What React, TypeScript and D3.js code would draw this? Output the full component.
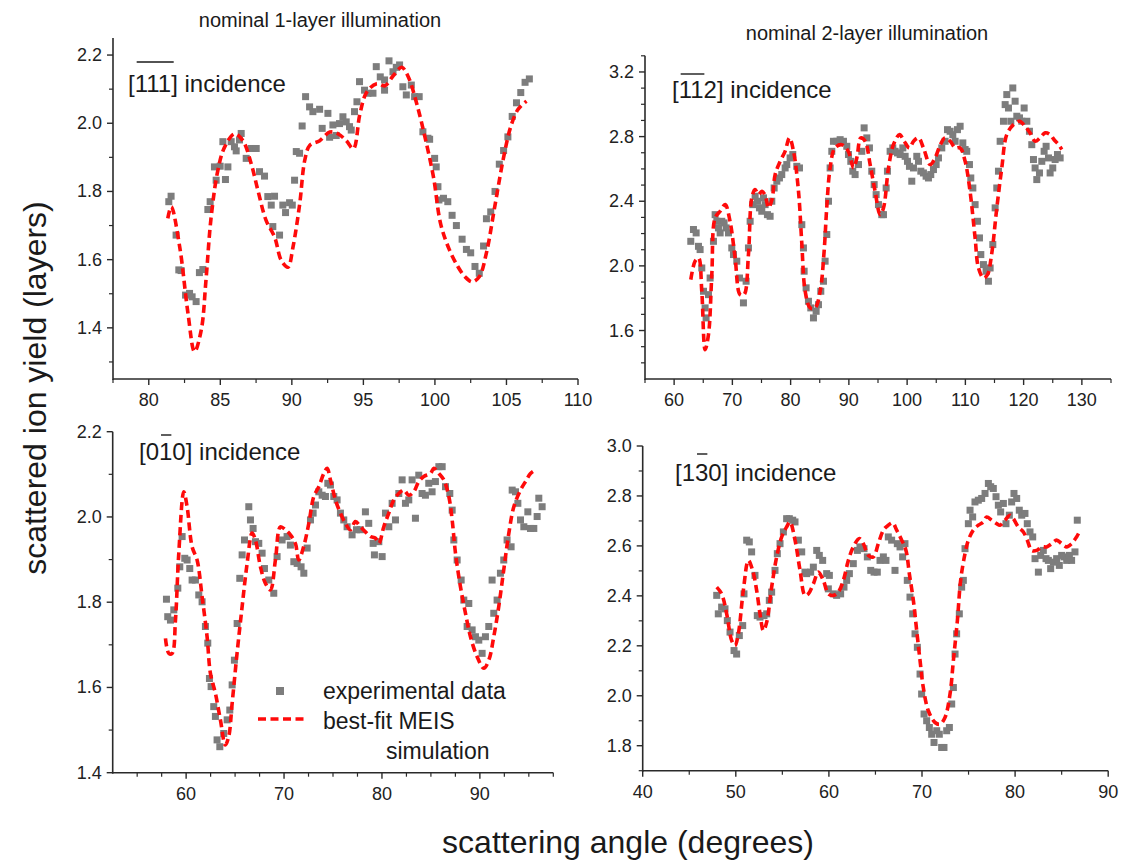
import React from "react";
import * as d3 from "d3";

type Pt = [number, number];

// ---------- Panel 1: nominal 1-layer, [-1-1-1] incidence ----------
const p1Experimental: Pt[] = [
  [81.4,1.77],[81.56,1.786],[81.91,1.672],[82.1,1.57],[82.26,1.568],[82.57,1.496],[82.85,1.501],[83.03,1.491],
  [83.31,1.477],[83.54,1.562],[83.78,1.571],[84.13,1.747],[84.29,1.77],[84.59,1.872],[84.71,1.833],[84.99,1.874],
  [85.36,1.835],[85.53,1.872],[85.18,1.946],[85.76,1.946],[85.99,1.931],[86.11,1.919],[86.34,1.951],[86.46,1.97],
  [86.81,1.897],[87.16,1.926],[87.51,1.926],[87.74,1.858],[88.09,1.845],[88.32,1.785],[88.56,1.76],[88.79,1.786],
  [88.67,1.697],[89.14,1.672],[89.37,1.76],[89.56,1.738],[89.84,1.767],[90.03,1.76],[90.19,1.833],[90.31,1.917],
  [90.54,1.912],[90.72,1.992],[90.96,2.078],[91.24,2.048],[91.47,2.034],[91.94,2.041],[92.12,1.985],[92.52,2.029],
  [92.64,1.959],[92.87,1.995],[93.1,1.964],[93.33,1.999],[93.57,2.019],[93.8,2.004],[94.03,1.99],[94.15,1.98],
  [94.38,2.034],[94.55,2.063],[94.73,2.122],[95.08,2.097],[95.32,2.088],[95.67,2.088],[95.9,2.166],[96.18,2.136],
  [96.48,2.097],[96.48,2.127],[96.79,2.183],[97.07,2.151],[97.3,2.164],[97.53,2.171],[97.76,2.107],[98.0,2.083],
  [98.35,2.112],[98.58,2.078],[98.9,2.078],[99.16,1.975],[99.51,1.956],[99.63,1.953],[99.98,1.897],[100.09,1.872],
  [100.21,1.814],[100.28,1.775],[100.6,1.78],[100.9,1.77],[101.2,1.73],[101.5,1.7],[101.9,1.66],[102.2,1.63],
  [102.5,1.62],[102.8,1.58],[103.1,1.56],[103.4,1.64],[103.6,1.72],[103.9,1.74],[104.2,1.8],[104.5,1.88],
  [104.8,1.92],[105.1,1.96],[105.4,2.02],[105.7,2.06],[106.0,2.09],[106.3,2.12],[106.6,2.13]
];
const p1Fit: Pt[] = [
  [81.33,1.721],[81.57,1.755],[82.16,1.638],[82.74,1.443],[83.2,1.33],[83.67,1.394],[84.0,1.541],[84.36,1.725],
  [84.83,1.862],[85.3,1.93],[86.0,1.969],[86.58,1.949],[87.16,1.881],[87.63,1.803],[88.2,1.715],[88.8,1.666],
  [89.26,1.598],[89.73,1.578],[90.08,1.637],[90.55,1.764],[90.9,1.891],[91.25,1.935],[91.95,1.949],[92.65,1.974],
  [93.23,1.969],[93.8,1.949],[94.3,1.925],[94.76,2.028],[95.23,2.091],[95.93,2.116],[96.5,2.11],[97.1,2.14],
  [97.68,2.164],[98.15,2.135],[98.73,2.057],[99.3,1.96],[99.9,1.842],[100.4,1.705],[101.0,1.63],[101.6,1.58],
  [102.1,1.55],[102.6,1.535],[103.1,1.55],[103.6,1.62],[104.2,1.76],[104.8,1.9],[105.3,1.99],[105.8,2.04],[106.4,2.065]
];
const p1XTicks = [80, 85, 90, 95, 100, 105, 110];
const p1XMinor = [77.5, 82.5, 87.5, 92.5, 97.5, 102.5, 107.5];
const p1YTicks = [1.4, 1.6, 1.8, 2.0, 2.2];
const p1YMinor = [1.3, 1.5, 1.7, 1.9, 2.1];

// ---------- Panel 2: nominal 2-layer, [-1-12] incidence ----------
const p2Experimental: Pt[] = [
  [62.86,2.152],[63.32,2.225],[63.78,2.204],[64.18,2.121],[64.46,2.101],[64.75,1.987],[65.04,1.843],[65.32,1.74],
  [65.49,1.678],[65.9,1.822],[66.18,1.925],[66.75,2.152],[67.04,2.317],[67.33,2.276],[67.61,2.235],[67.9,2.204],
  [68.18,2.276],[68.58,2.266],[68.93,2.235],[69.33,2.204],[69.9,2.111],[70.19,2.07],[70.76,2.029],[71.22,1.925],
  [71.9,1.771],[72.36,1.905],[72.76,2.111],[73.05,2.276],[73.51,2.379],[73.91,2.431],[74.31,2.4],[74.65,2.359],
  [75.05,2.338],[75.34,2.421],[75.62,2.379],[76.02,2.317],[76.48,2.307],[76.77,2.4],[77.17,2.482],[77.63,2.524],
  [78.08,2.544],[78.48,2.565],[79.06,2.606],[79.34,2.627],[79.91,2.668],[80.37,2.689],[81.06,2.616],[81.52,2.606],
  [81.92,2.255],[82.2,2.111],[82.32,1.967],[82.66,1.864],[83.06,1.781],[83.46,1.74],[83.92,1.678],[84.38,1.719],
  [84.78,1.76],[85.18,1.843],[85.64,1.905],[85.92,2.029],[86.21,2.194],[86.5,2.4],[86.78,2.606],[87.07,2.709],
  [87.35,2.771],[87.93,2.771],[88.5,2.781],[89.07,2.771],[89.64,2.74],[89.93,2.689],[90.33,2.647],[90.67,2.586],
  [91.07,2.565],[91.65,2.627],[92.22,2.709],[92.62,2.854],[93.08,2.792],[93.53,2.73],[93.93,2.586],[94.34,2.503],
  [94.68,2.441],[95.08,2.379],[95.65,2.317],[95.94,2.317],[96.4,2.482],[96.62,2.586],[97.08,2.709],[97.54,2.73],
  [97.94,2.709],[98.34,2.699],[98.8,2.689],[99.26,2.73],[99.66,2.678],[100.06,2.647],[100.4,2.616],[100.8,2.524],
  [101.09,2.606],[101.66,2.678],[101.95,2.647],[102.35,2.586],[102.8,2.575],[103.26,2.555],[103.66,2.544],[104.06,2.565],
  [104.52,2.596],[104.98,2.627],[105.38,2.668],[105.95,2.73],[106.52,2.771],[106.93,2.843],[107.38,2.833],[107.84,2.812],
  [108.24,2.771],[108.64,2.843],[109.1,2.864],[109.56,2.761],[109.96,2.72],[110.24,2.709],[110.7,2.627],[110.93,2.544],
  [111.28,2.482],[111.67,2.379],[112.07,2.276],[112.42,2.173],[112.65,2.07],[113.1,2.008],[113.56,1.967],[113.96,1.905],
  [114.25,1.987],[114.71,2.132],[115.11,2.359],[115.39,2.482],[115.68,2.586],[115.97,2.771],[116.54,2.895],[116.83,2.998],
  [117.11,3.06],[117.4,2.977],[117.8,2.895],[118.14,3.101],[118.54,3.019],[118.83,2.926],[119.29,2.916],[119.69,2.895],
  [120.09,2.977],[120.55,2.895],[121.0,2.833],[121.4,2.75],[121.69,2.658],[121.97,2.606],[122.26,2.534],[122.72,2.575],
  [123.12,2.647],[123.52,2.709],[123.86,2.74],[124.27,2.668],[124.55,2.575],[125.0,2.606],[125.41,2.658],[125.81,2.689],
  [126.27,2.668]
];
const p2Fit: Pt[] = [
  [62.86,1.915],[63.6,2.029],[64.2,2.049],[64.75,1.843],[65.32,1.482],[65.9,1.575],[66.47,1.946],[67.04,2.297],
  [67.9,2.338],[68.76,2.379],[69.6,2.276],[70.47,2.049],[71.33,1.822],[72.0,1.822],[72.76,2.07],[73.33,2.42],
  [73.9,2.472],[74.48,2.441],[75.05,2.462],[75.6,2.44],[76.2,2.36],[76.8,2.41],[77.34,2.565],[78.2,2.647],
  [79.05,2.709],[79.8,2.792],[80.5,2.709],[81.35,2.462],[81.9,2.152],[82.5,1.843],[83.35,1.74],[84.2,1.74],
  [85.07,1.843],[85.75,2.09],[86.2,2.36],[86.78,2.606],[87.6,2.73],[88.78,2.75],[89.9,2.709],[90.8,2.606],
  [91.36,2.668],[92.05,2.792],[92.8,2.771],[93.65,2.627],[94.5,2.462],[95.37,2.317],[95.94,2.358],[96.8,2.606],
  [97.65,2.75],[98.7,2.812],[99.5,2.771],[100.4,2.73],[101.1,2.771],[101.95,2.792],[102.8,2.73],[103.95,2.627],
  [104.8,2.668],[105.7,2.75],[106.5,2.792],[107.4,2.771],[108.25,2.73],[109.1,2.73],[109.96,2.647],[110.8,2.462],
  [111.67,2.173],[112.25,1.987],[113.1,1.925],[113.8,1.946],[114.5,2.07],[115.4,2.36],[116.25,2.606],[117.1,2.812],
  [118.26,2.874],[119.3,2.895],[120.25,2.864],[121.1,2.823],[122.0,2.771],[122.8,2.792],[123.7,2.823],[124.55,2.812],
  [125.2,2.782],[126.0,2.75],[126.55,2.72]
];
const p2XTicks = [60, 70, 80, 90, 100, 110, 120, 130];
const p2XMinor = [55, 65, 75, 85, 95, 105, 115, 125, 135];
const p2YTicks = [1.6, 2.0, 2.4, 2.8, 3.2];
const p2YMinor = [1.4, 1.5, 1.7, 1.8, 1.9, 2.1, 2.2, 2.3, 2.5, 2.6, 2.7, 2.9, 3.0, 3.1, 3.3];

// ---------- Panel 3: nominal 1-layer, [0-10] incidence ----------
const p3Experimental: Pt[] = [
  [57.99,1.807],[58.12,1.766],[58.4,1.758],[58.74,1.782],[59.15,1.833],[59.35,1.883],[59.59,1.954],[59.86,1.903],
  [60.1,1.899],[60.37,1.879],[60.61,1.852],[60.95,1.852],[61.29,1.817],[61.63,1.801],[61.97,1.743],[62.21,1.704],
  [62.38,1.621],[62.55,1.602],[62.82,1.555],[62.99,1.532],[63.16,1.477],[63.44,1.461],[63.84,1.492],[64.19,1.524],
  [64.46,1.547],[64.7,1.606],[64.93,1.664],[65.21,1.75],[65.48,1.856],[65.72,1.911],[65.96,1.946],[66.4,2.024],
  [66.57,1.993],[66.84,1.973],[67.08,1.942],[67.42,1.938],[67.76,1.915],[68.0,1.879],[68.44,1.852],[68.95,1.821],
  [69.29,1.907],[69.8,1.946],[70.31,1.954],[70.65,1.934],[71.0,1.895],[71.34,1.891],[71.74,1.883],[72.02,1.868],
  [72.36,1.927],[72.7,1.993],[72.97,2.009],[73.21,2.028],[73.55,2.059],[73.89,2.051],[74.23,2.048],[74.47,2.079],
  [74.74,2.075],[75.08,2.048],[75.42,2.04],[75.76,2.009],[76.1,1.993],[76.44,1.977],[76.95,1.958],[77.4,1.97],
  [77.8,1.97],[78.31,2.012],[78.65,1.985],[79.1,1.938],[79.23,1.911],[79.68,1.942],[80.02,1.907],[80.36,2.009],
  [80.7,1.977],[81.04,2.032],[81.38,1.993],[81.72,2.055],[82.06,2.087],[82.4,2.032],[82.74,2.04],[83.08,2.087],
  [83.42,1.997],[83.76,2.098],[84.1,2.055],[84.44,2.051],[84.78,2.079],[85.12,2.059],[85.46,2.083],[85.81,2.118],
  [86.15,2.118],[86.49,2.071],[86.93,2.055],[87.17,2.016],[87.34,1.946],[87.68,1.899],[88.09,1.852],[88.36,1.805],
  [88.87,1.797],[88.7,1.743],[89.21,1.735],[89.55,1.719],[89.89,1.711],[90.23,1.68],[90.57,1.719],[90.91,1.743],
  [91.25,1.852],[91.42,1.774],[91.76,1.805],[92.1,1.868],[92.44,1.899],[92.78,1.946],[93.19,1.93],[93.3,2.063],
  [93.64,2.059],[93.88,2.032],[94.15,1.993],[94.49,1.977],[94.9,2.012],[95.17,1.973],[95.51,1.973],[95.85,2.001],
  [96.02,2.044],[96.36,2.024]
];
const p3Fit: Pt[] = [
  [57.89,1.715],[58.23,1.68],[58.57,1.68],[58.91,1.758],[59.25,1.915],[59.76,2.059],[60.1,2.024],[60.61,1.93],
  [61.12,1.899],[61.63,1.813],[62.14,1.719],[62.48,1.633],[62.99,1.586],[63.5,1.524],[64.0,1.465],[64.35,1.485],
  [64.7,1.563],[65.2,1.68],[65.72,1.79],[66.23,1.891],[66.74,1.962],[67.08,1.946],[67.59,1.883],[68.1,1.844],
  [68.61,1.829],[69.12,1.899],[69.63,1.977],[70.14,1.97],[70.65,1.958],[71.16,1.938],[71.5,1.899],[72.0,1.93],
  [72.53,1.985],[73.04,2.048],[73.55,2.071],[74.06,2.102],[74.4,2.114],[74.74,2.087],[75.25,2.04],[75.76,2.009],
  [76.27,1.985],[76.78,1.97],[77.29,1.989],[77.8,1.977],[78.31,1.965],[78.82,1.954],[79.34,1.95],[79.68,1.938],
  [80.19,1.977],[80.7,2.009],[81.21,2.04],[81.72,2.055],[82.23,2.063],[82.74,2.051],[83.25,2.059],[83.76,2.083],
  [84.27,2.095],[84.95,2.102],[85.3,2.114],[85.81,2.102],[86.32,2.087],[86.83,2.048],[87.17,1.993],[87.51,1.915],
  [88.02,1.836],[88.53,1.774],[89.04,1.719],[89.72,1.672],[90.4,1.645],[90.91,1.664],[91.42,1.719],[91.93,1.79],
  [92.44,1.876],[92.96,1.962],[93.47,2.024],[94.15,2.063],[94.66,2.083],[95.17,2.102],[95.68,2.11]
];
const p3XTicks = [60, 70, 80, 90];
const p3XMinor = [55, 57.5, 62.5, 65, 67.5, 72.5, 75, 77.5, 82.5, 85, 87.5, 92.5, 95, 97.5];
const p3YTicks = [1.4, 1.6, 1.8, 2.0, 2.2];
const p3YMinor = [1.5, 1.7, 1.9, 2.1];

// ---------- Panel 4: nominal 2-layer, [1-30] incidence ----------
const p4Experimental: Pt[] = [
  [47.95,2.402],[48.12,2.328],[48.48,2.355],[48.84,2.348],[49.09,2.301],[49.38,2.255],[49.81,2.181],[50.09,2.167],
  [50.38,2.241],[50.74,2.281],[50.88,2.408],[51.17,2.623],[51.45,2.616],[51.7,2.576],[52.06,2.482],[52.31,2.321],
  [52.6,2.315],[53.03,2.321],[53.32,2.328],[53.6,2.382],[53.85,2.415],[54.21,2.502],[54.46,2.569],[54.75,2.609],
  [55.11,2.656],[55.46,2.709],[55.75,2.709],[56.11,2.703],[56.36,2.696],[56.72,2.623],[57.08,2.576],[57.43,2.495],
  [57.61,2.489],[58.04,2.495],[58.33,2.515],[58.69,2.582],[58.97,2.562],[59.33,2.542],[59.76,2.489],[60.05,2.482],
  [59.94,2.428],[60.48,2.408],[60.83,2.402],[61.26,2.408],[61.62,2.435],[61.91,2.462],[62.2,2.489],[62.62,2.529],
  [63.06,2.582],[63.34,2.596],[63.77,2.589],[64.13,2.556],[64.49,2.502],[64.85,2.495],[65.2,2.495],[65.49,2.542],
  [65.85,2.556],[66.13,2.542],[66.38,2.636],[66.74,2.623],[67.1,2.502],[67.35,2.609],[67.64,2.596],[67.92,2.556],
  [68.17,2.609],[68.42,2.462],[68.71,2.395],[69.0,2.328],[69.25,2.248],[69.5,2.194],[69.79,2.087],[69.96,2.007],
  [70.22,1.927],[70.5,1.9],[70.79,1.873],[71.04,1.846],[71.29,1.813],[71.58,1.86],[71.86,1.846],[72.11,1.793],
  [72.36,1.793],[72.65,1.86],[72.94,1.873],[73.19,1.967],[73.37,2.033],[73.55,2.167],[73.72,2.248],[74.01,2.328],
  [74.26,2.435],[74.44,2.462],[74.62,2.589],[74.98,2.689],[75.16,2.743],[75.44,2.716],[75.69,2.776],[76.05,2.783],
  [76.41,2.79],[76.77,2.81],[77.13,2.85],[77.38,2.837],[77.66,2.83],[77.95,2.797],[78.2,2.763],[78.45,2.736],
  [78.74,2.77],[79.02,2.689],[79.38,2.723],[79.63,2.776],[79.88,2.81],[80.17,2.79],[80.45,2.743],[80.71,2.723],
  [81.06,2.73],[81.31,2.689],[81.6,2.656],[81.89,2.636],[82.14,2.549],[82.5,2.495],[82.75,2.562],[83.03,2.582],
  [83.32,2.549],[83.57,2.542],[83.82,2.509],[84.11,2.535],[84.46,2.549],[84.75,2.522],[85.0,2.562],[85.25,2.556],
  [85.54,2.542],[85.83,2.562],[86.07,2.542],[86.43,2.576],[86.68,2.703]
];
const p4Fit: Pt[] = [
  [47.95,2.435],[48.48,2.408],[49.02,2.328],[49.56,2.221],[49.91,2.201],[50.27,2.248],[50.81,2.422],[51.35,2.542],
  [51.81,2.502],[52.24,2.422],[52.6,2.328],[52.96,2.261],[53.32,2.295],[53.85,2.435],[54.39,2.556],[54.93,2.636],
  [55.46,2.676],[55.82,2.696],[56.36,2.623],[56.9,2.502],[57.43,2.402],[57.79,2.408],[58.33,2.448],[58.86,2.495],
  [59.4,2.462],[59.94,2.408],[60.48,2.402],[61.01,2.415],[61.55,2.462],[62.09,2.542],[62.62,2.596],[63.27,2.629],
  [63.7,2.609],[64.24,2.562],[64.77,2.556],[65.31,2.609],[65.85,2.663],[66.38,2.683],[66.85,2.692],[67.28,2.663],
  [67.82,2.623],[68.28,2.582],[68.64,2.489],[69.07,2.382],[69.43,2.261],[69.79,2.141],[70.14,2.033],[70.68,1.94],
  [71.4,1.893],[71.93,1.886],[72.47,1.913],[73.01,2.007],[73.37,2.141],[73.8,2.301],[74.15,2.462],[74.62,2.569],
  [74.98,2.623],[75.51,2.663],[76.05,2.683],[76.59,2.696],[76.95,2.716],[77.48,2.703],[78.02,2.689],[78.38,2.683],
  [78.92,2.703],[79.45,2.723],[79.81,2.709],[80.35,2.676],[80.89,2.656],[81.31,2.623],[81.78,2.582],[82.32,2.582],
  [82.85,2.596],[83.39,2.596],[83.93,2.609],[84.46,2.623],[85.0,2.609],[85.54,2.596],[86.07,2.609],[86.6,2.636],
  [86.9,2.656]
];
const p4XTicks = [40, 50, 60, 70, 80, 90];
const p4XMinor = [45, 55, 65, 75, 85];
const p4YTicks = [1.8, 2.0, 2.2, 2.4, 2.6, 2.8, 3.0];
const p4YMinor = [1.7, 1.9, 2.1, 2.3, 2.5, 2.7, 2.9];

// ---------- Texts ----------
const panelTitles = ["nominal 1-layer illumination", "nominal 2-layer illumination"];
const yAxisTitle = "scattered ion yield (layers)";
const xAxisTitle = "scattering angle (degrees)";
const legendLabels = ["experimental data", "best-fit MEIS", "simulation"];

const FONT = "'Liberation Sans', Arial, Helvetica, sans-serif";
const AXIS = "#2a2a2a";
const GRAY = "#7d7d7d";
const RED = "#ff0a0a";

interface Spec {
  exp: Pt[];
  fit: Pt[];
  xDomain: [number, number];
  yDomain: [number, number];
  xRange: [number, number];
  yRange: [number, number];
  xTicks: number[];
  xMinor: number[];
  yTicks: number[];
  yMinor: number[];
}

const panels: Spec[] = [
  {
    exp: p1Experimental, fit: p1Fit,
    xDomain: [77.5, 110], yDomain: [1.25, 2.25],
    xRange: [113, 578], yRange: [379, 38],
    xTicks: p1XTicks, xMinor: p1XMinor, yTicks: p1YTicks, yMinor: p1YMinor,
  },
  {
    exp: p2Experimental, fit: p2Fit,
    xDomain: [55, 135], yDomain: [1.3, 3.3],
    xRange: [645, 1111], yRange: [379, 55.8],
    xTicks: p2XTicks, xMinor: p2XMinor, yTicks: p2YTicks, yMinor: p2YMinor,
  },
  {
    exp: p3Experimental, fit: p3Fit,
    xDomain: [52.5, 97.5], yDomain: [1.4, 2.2],
    xRange: [112.7, 553.3], yRange: [772.7, 431.7],
    xTicks: p3XTicks, xMinor: p3XMinor, yTicks: p3YTicks, yMinor: p3YMinor,
  },
  {
    exp: p4Experimental, fit: p4Fit,
    xDomain: [40, 90], yDomain: [1.7, 3.0],
    xRange: [642.7, 1108.2], yRange: [770.7, 446],
    xTicks: p4XTicks, xMinor: p4XMinor, yTicks: p4YTicks, yMinor: p4YMinor,
  },
];

const incidenceLabels = [
  { digits: "111", bar: [0, 3], x: 128, y: 92, barUp: 30 },
  { digits: "112", bar: [0, 2], x: 672, y: 98, barUp: 24 },
  { digits: "010", bar: [1, 2], x: 139, y: 460, barUp: 25 },
  { digits: "130", bar: [1, 2], x: 675, y: 481, barUp: 27 },
];

function Panel({ s }: { s: Spec }) {
  const x = d3.scaleLinear().domain(s.xDomain).range(s.xRange);
  const y = d3.scaleLinear().domain(s.yDomain).range(s.yRange);
  const line = d3
    .line<Pt>()
    .x((d) => x(d[0]))
    .y((d) => y(d[1]))
    .curve(d3.curveCatmullRom.alpha(0.5));
  const [x0, x1] = s.xRange;
  const yb = s.yRange[0];
  const yt = s.yRange[1];
  const m = 7;
  return (
    <g>
      {s.exp.map((d, i) => (
        <rect key={i} x={x(d[0]) - m / 2} y={y(d[1]) - m / 2} width={m} height={m} fill={GRAY} />
      ))}
      <path d={line(s.fit) || ""} fill="none" stroke={RED} strokeWidth={3.6} strokeDasharray="8,4.5" />
      <line x1={x0} x2={x1} y1={yb} y2={yb} stroke={AXIS} strokeWidth={1.6} />
      <line x1={x0} x2={x0} y1={yb + 1} y2={yt} stroke={AXIS} strokeWidth={1.6} />
      {s.xTicks.map((t) => (
        <g key={"xt" + t}>
          <line x1={x(t)} x2={x(t)} y1={yb} y2={yb + 6} stroke={AXIS} strokeWidth={1.4} />
          <text x={x(t)} y={yb + 27} textAnchor="middle" fontSize={18} fill="#222" fontFamily={FONT}>
            {String(t)}
          </text>
        </g>
      ))}
      {s.xMinor.map((t) => (
        <line key={"xm" + t} x1={x(t)} x2={x(t)} y1={yb} y2={yb + 4} stroke={AXIS} strokeWidth={1.2} />
      ))}
      {s.yTicks.map((t) => (
        <g key={"yt" + t}>
          <line x1={x0 - 6} x2={x0} y1={y(t)} y2={y(t)} stroke={AXIS} strokeWidth={1.4} />
          <text x={x0 - 11} y={y(t) + 6} textAnchor="end" fontSize={18} fill="#222" fontFamily={FONT}>
            {t.toFixed(1)}
          </text>
        </g>
      ))}
      {s.yMinor.map((t) => (
        <line key={"ym" + t} x1={x0 - 4} x2={x0} y1={y(t)} y2={y(t)} stroke={AXIS} strokeWidth={1.2} />
      ))}
    </g>
  );
}

function Incidence({ l }: { l: (typeof incidenceLabels)[number] }) {
  const fs = 24;
  const bw = 0.278 * fs;
  const cw = 0.556 * fs;
  const bx0 = l.x + bw + l.bar[0] * cw + 2;
  const bx1 = l.x + bw + l.bar[1] * cw - 1;
  return (
    <g fontFamily={FONT} fill="#1a1a1a">
      <text x={l.x} y={l.y} fontSize={fs}>
        [{l.digits}] incidence
      </text>
      <line x1={bx0} x2={bx1} y1={l.y - l.barUp} y2={l.y - l.barUp} stroke="#1a1a1a" strokeWidth={1.4} />
    </g>
  );
}

export default function App() {
  return (
    <div style={{ position: "absolute", left: 0, top: 0 }}>
      <svg width={1126} height={863} style={{ display: "block", background: "#fff" }}>
        <rect width={1126} height={863} fill="#fff" />
        {panels.map((s, i) => (
          <Panel key={i} s={s} />
        ))}
        {incidenceLabels.map((l, i) => (
          <Incidence key={i} l={l} />
        ))}
        <text x={320} y={27} textAnchor="middle" fontSize={20} fontFamily={FONT} fill="#1a1a1a">
          {panelTitles[0]}
        </text>
        <text x={867} y={40} textAnchor="middle" fontSize={20} fontFamily={FONT} fill="#1a1a1a">
          {panelTitles[1]}
        </text>
        <text
          transform="translate(46,388) rotate(-90)"
          textAnchor="middle"
          fontSize={32}
          fontFamily={FONT}
          fill="#1a1a1a"
        >
          {yAxisTitle}
        </text>
        <text x={628} y={853} textAnchor="middle" fontSize={32} fontFamily={FONT} fill="#1a1a1a">
          {xAxisTitle}
        </text>
        {/* legend */}
        <g fontFamily={FONT} fontSize={23} fill="#1a1a1a">
          <rect x={276} y={687} width={8} height={8} fill={GRAY} />
          <text x={323} y={699}>{legendLabels[0]}</text>
          <line x1={258} x2={305} y1={719} y2={719} stroke={RED} strokeWidth={3.6} strokeDasharray="8,4.5" />
          <text x={323} y={729}>{legendLabels[1]}</text>
          <text x={386} y={759}>{legendLabels[2]}</text>
        </g>
      </svg>
    </div>
  );
}
